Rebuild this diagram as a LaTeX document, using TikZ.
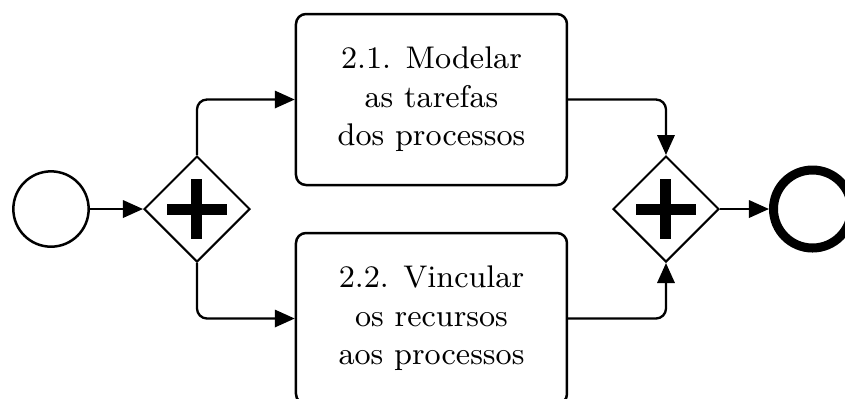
\documentclass[tikz,border=0pt]{standalone}
\usetikzlibrary{arrows.meta,shapes.geometric}
\begin{document}
\begin{tikzpicture}[x=0.3pt,y=-0.3pt,
  flow/.style={line width=0.7pt,rounded corners=3pt,-{Triangle[length=6pt,width=5.2pt]}},
  startev/.style={circle,draw,line width=0.75pt,inner sep=0pt,minimum size=22.6pt},
  endev/.style={circle,draw,line width=2.7pt,inner sep=0pt,minimum size=23.4pt},
  gateway/.style={diamond,draw,line width=0.6pt,inner sep=0pt,aspect=1,minimum width=31.8pt,minimum height=31.8pt},
  task/.style={rectangle,draw,line width=0.75pt,rounded corners=3pt,inner sep=0pt,
    minimum width=81.3pt,minimum height=51.3pt,align=center,
    font=\fontsize{9.4}{11.55}\selectfont}
]
\useasboundingbox (0,0) rectangle (845,398);

\node[startev] (start) at (51,209) {};
\node[gateway] (g1) at (197,209) {};
\node[task] (t1) at (431.5,99.5) {2.1. Modelar\\as tarefas\\dos processos};
\node[task] (t2) at (431.5,318.5) {2.2. Vincular\\os recursos\\aos processos};
\node[gateway] (g2) at (666,209) {};
\node[endev] (end) at (812.5,209) {};

% parallel gateway markers
\foreach \g in {g1,g2}{
  \fill ([shift={(-30,-5.5)}]\g.center) rectangle ([shift={(30,5.5)}]\g.center);
  \fill ([shift={(-5.5,-30)}]\g.center) rectangle ([shift={(5.5,30)}]\g.center);
}

\draw[flow] (start) -- (g1);
\draw[flow] (g1.north) |- (t1.west);
\draw[flow] (g1.south) |- (t2.west);
\draw[flow] (t1.east) -| (g2.north);
\draw[flow] (t2.east) -| (g2.south);
\draw[flow] (g2.east) -- (end.west);
\end{tikzpicture}
\end{document}
